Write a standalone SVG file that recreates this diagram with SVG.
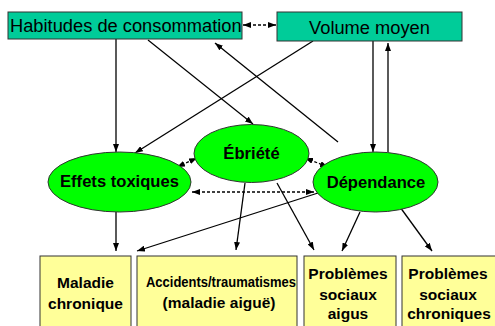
<svg xmlns="http://www.w3.org/2000/svg" width="495" height="326" viewBox="0 0 495 326">
<defs>
<marker id="ah" markerWidth="8" markerHeight="6" refX="8" refY="3" orient="auto-start-reverse" markerUnits="userSpaceOnUse">
<path d="M0,0 L8,3 L0,6 z" fill="#000"/>
</marker>
<style>
.top{fill:#00CC99;stroke:#333;stroke-width:1}
.ell{fill:#00FF00;stroke:#333;stroke-width:1}
.out{fill:#FFFF99;stroke:#333;stroke-width:1}
.tt{font-family:"Liberation Sans",Arial,sans-serif;font-size:18.3px;fill:#000}
.et{font-family:"Liberation Sans",Arial,sans-serif;font-size:16.6px;font-weight:bold;fill:#000;text-anchor:middle}
.bt{font-family:"Liberation Sans",Arial,sans-serif;font-size:15.5px;font-weight:bold;fill:#000;text-anchor:middle}
.ln{stroke:#000;stroke-width:1.3;fill:none;marker-end:url(#ah)}
.dl{stroke:#000;stroke-width:1.3;fill:none;stroke-dasharray:3,2;marker-start:url(#ah);marker-end:url(#ah)}
</style>
</defs>
<rect width="495" height="326" fill="#fff"/>
<g id="connectors">
<line class="dl" x1="243" y1="25" x2="276" y2="25"/>
<line class="ln" x1="116" y1="39" x2="116" y2="152"/>
<line class="ln" x1="148" y1="40" x2="253" y2="124"/>
<line class="ln" x1="338" y1="142" x2="215" y2="43"/>
<line class="ln" x1="313" y1="41" x2="135" y2="153"/>
<line class="ln" x1="373" y1="41" x2="373" y2="152"/>
<line class="ln" x1="388" y1="152" x2="388" y2="43"/>
<line class="dl" x1="177" y1="167" x2="197" y2="158"/>
<line class="dl" x1="305" y1="158" x2="328" y2="167"/>
<line class="dl" x1="192" y1="192" x2="314" y2="192"/>
<line class="ln" x1="116" y1="212" x2="116" y2="251"/>
<line class="ln" x1="318" y1="193" x2="137" y2="251"/>
<line class="ln" x1="245" y1="183" x2="236" y2="250"/>
<line class="ln" x1="277" y1="183" x2="314" y2="250"/>
<line class="ln" x1="360" y1="212" x2="342" y2="251"/>
<line class="ln" x1="400" y1="207" x2="432" y2="251"/>
</g>
<g id="habitudes">
<rect class="top" x="8" y="12" width="234" height="27"/>
<text class="tt" x="10" y="32">Habitudes de consommation</text>
</g>
<g id="volume">
<rect class="top" x="277" y="12" width="185" height="29"/>
<text class="tt" x="369.5" y="34" text-anchor="middle">Volume moyen</text>
</g>
<g id="ebriete">
<ellipse class="ell" cx="251.5" cy="153.5" rx="57.5" ry="29"/>
<text class="et" x="251.5" y="159">Ébriété</text>
</g>
<g id="effets">
<ellipse class="ell" cx="119.5" cy="182" rx="71.5" ry="30"/>
<text class="et" x="119.5" y="187">Effets toxiques</text>
</g>
<g id="dependance">
<ellipse class="ell" cx="375.5" cy="182" rx="62.5" ry="30"/>
<text class="et" x="376" y="188">Dépendance</text>
</g>
<g id="maladie">
<rect class="out" x="40" y="256" width="91" height="80"/>
<text class="bt" x="85.5" y="288">Maladie</text>
<text class="bt" x="85.5" y="309">chronique</text>
</g>
<g id="accidents">
<rect class="out" x="137" y="256" width="160" height="80"/>
<text class="bt" x="221" y="287" font-size="13.5" textLength="150" lengthAdjust="spacingAndGlyphs">Accidents/traumatismes</text>
<text class="bt" x="219" y="308" font-size="13.5">(maladie aiguë)</text>
</g>
<g id="aigus">
<rect class="out" x="304" y="256" width="92" height="80"/>
<text class="bt" x="348" y="279">Problèmes</text>
<text class="bt" x="348" y="300">sociaux</text>
<text class="bt" x="348" y="319">aigus</text>
</g>
<g id="chroniques">
<rect class="out" x="402" y="256" width="96" height="80"/>
<text class="bt" x="448" y="279">Problèmes</text>
<text class="bt" x="448" y="300">sociaux</text>
<text class="bt" x="449" y="319">chroniques</text>
</g>
</svg>
